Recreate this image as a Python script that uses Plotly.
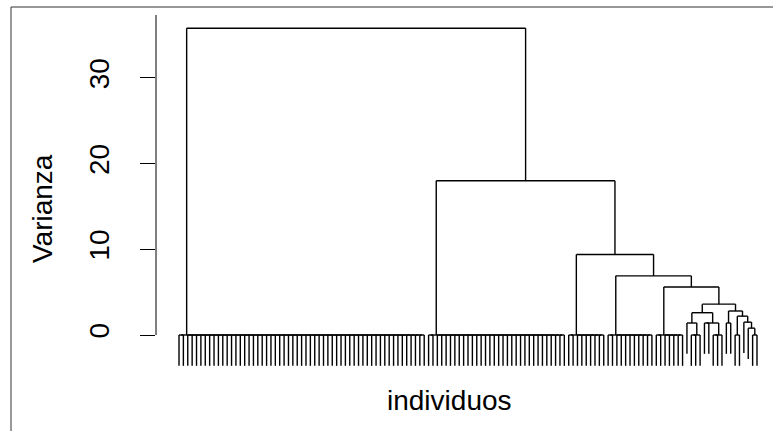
import plotly.graph_objects as go

# ---------------- data ----------------
# sizes of the groups of individuals that merge at height 0 (left to right)
group_sizes = [57, 32, 9, 11, 7]
# heights of the successive main merges (top first)
chain_heights = [35.8, 18.0, 9.4, 6.9, 5.6]
# small right-hand cluster: [height, left, right]; an int n = n leaves merged at 0
small_tree = [3.6,
              [2.6, [1.4, 1, 3], [1.4, [1.4, 1, 1], 3]],
              [2.8, [1.4, 1, 1], [2.2, 2, [1.5, 1, [0.8, 1, 2]]]]]
hang = 3.6
y_ticks = [0, 10, 20, 30]
x_title = "individuos"
y_title = "Varianza"


def zero_group(n):
    if n == 1:
        return 1
    if n == 2:
        return [0.0, 1, 1]
    chain = 1
    for _ in range(n - 2 - 1):
        chain = [0.0, 1, chain]
    return [0.0, [0.0, 1, 1], chain]


def expand(node):
    if isinstance(node, int):
        return zero_group(node) if node > 1 else 1
    return [node[0], expand(node[1]), expand(node[2])]


tree = expand(small_tree)
for h, g in zip(reversed(chain_heights), reversed(group_sizes)):
    tree = [h, expand(g), tree]

xs, ys = [], []
counter = [0]


def layout(node):
    """returns (x anchor, height or None for leaf)"""
    if node == 1:
        x = counter[0]
        counter[0] += 1
        return x, None
    h, left, right = node
    xl, hl = layout(left)
    xr, hr = layout(right)
    for xc, hc in ((xl, hl), (xr, hr)):
        bottom = h - hang if hc is None else hc
        xs.extend([xc, xc, None])
        ys.extend([h, bottom, None])
    xs.extend([xl, xr, None])
    ys.extend([h, h, None])
    return (xl + xr) / 2, h


top_x, top_h = layout(tree)
n_leaves = counter[0]

# ---------------- figure ----------------
W, H = 773, 431
ml, mr, mt, mb = 156, 0, 15, 51
pw, ph = W - ml - mr, H - mt - mb
px_per_leaf = (757 - 179) / (n_leaves - 1)
x0 = -(179 - ml) / px_per_leaf
x1 = x0 + pw / px_per_leaf
px_per_unit = 85.7 / 10
y0 = -(mt + ph - 335) / px_per_unit
y1 = y0 + ph / px_per_unit

fig = go.Figure(go.Scatter(x=xs, y=ys, mode="lines",
                           line=dict(color="black", width=1.4),
                           hoverinfo="skip", showlegend=False))

font = dict(family="Liberation Sans, Arial, sans-serif", size=28, color="black")

fig.update_layout(
    width=W, height=H,
    margin=dict(l=ml, r=mr, t=mt, b=mb, pad=0),
    paper_bgcolor="white", plot_bgcolor="white",
    xaxis=dict(range=[x0, x1], visible=False),
    yaxis=dict(range=[y0, y1], tickvals=y_ticks, ticktext=[str(v) for v in y_ticks],
               ticks="outside", ticklen=15, tickwidth=1, tickcolor="black",
               showgrid=False, zeroline=False, showline=False,
               tickangle=-90, tickfont=font, ticklabelstandoff=20),
    shapes=[
        dict(type="line", xref="paper", yref="y", x0=0, x1=0, y0=0, y1=y1,
             line=dict(color="black", width=1)),
        dict(type="line", xref="paper", yref="paper",
             x0=(11 - ml) / pw, x1=(W - ml) / pw + 0.01,
             y0=(mt + ph - 7) / ph, y1=(mt + ph - 7) / ph,
             line=dict(color="#333", width=1)),
        dict(type="line", xref="paper", yref="paper",
             x0=(11 - ml) / pw, x1=(11 - ml) / pw,
             y0=(mt + ph - 7) / ph, y1=(mt + ph - H - 5) / ph,
             line=dict(color="#333", width=1)),
    ],
    annotations=[
        dict(text=y_title, xref="paper", yref="paper", x=(42 - ml) / pw,
             y=(mt + ph - 209) / ph, textangle=-90, showarrow=False,
             xanchor="center", yanchor="middle", font=font),
        dict(text=x_title, xref="paper", yref="paper", x=(449 - ml) / pw,
             y=(mt + ph - 400) / ph, showarrow=False,
             xanchor="center", yanchor="middle", font=font),
    ],
)

fig.write_html("out.html")
